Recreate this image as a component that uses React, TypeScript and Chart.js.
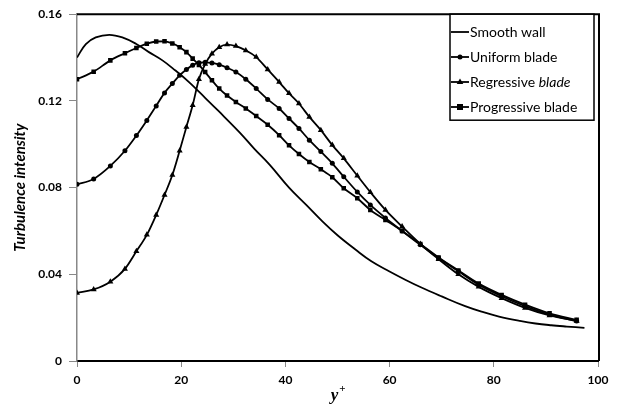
import React, { useEffect, useRef } from "react";
import { Chart, registerables } from "chart.js";

Chart.register(...registerables);

// y+ grid of the blade simulations
const bladeX = [0, 3.2, 6.4, 9.2, 11.4, 13.4, 15.2, 16.8, 18.3, 19.7, 21.0, 22.2, 23.4, 24.6, 25.9, 27.3, 28.8, 30.5, 32.4, 34.4, 36.6, 38.8, 40.7, 42.6, 44.6, 46.8, 49.0, 51.2, 53.8, 56.3, 59.2, 62.4, 65.9, 69.4, 73.2, 77.1, 81.5, 86.0, 90.7, 95.9];

const uniformY = [0.0815, 0.084, 0.09, 0.097, 0.104, 0.111, 0.1177, 0.1237, 0.128, 0.1318, 0.1345, 0.1365, 0.1376, 0.1378, 0.1375, 0.1367, 0.1353, 0.1333, 0.13, 0.1257, 0.1207, 0.1165, 0.1119, 0.1073, 0.1019, 0.0966, 0.0912, 0.085, 0.078, 0.072, 0.066, 0.06, 0.0536, 0.0475, 0.0414, 0.0352, 0.0299, 0.0253, 0.0214, 0.0184];

const regressiveY = [0.0314, 0.033, 0.0366, 0.0425, 0.0506, 0.0582, 0.0674, 0.0766, 0.0858, 0.097, 0.108, 0.118, 0.13, 0.137, 0.1418, 0.1448, 0.146, 0.1453, 0.1433, 0.1402, 0.1345, 0.1287, 0.1235, 0.1188, 0.1126, 0.1065, 0.0996, 0.0935, 0.0855, 0.0779, 0.0697, 0.062, 0.054, 0.047, 0.04, 0.0342, 0.029, 0.0245, 0.021, 0.0185];

const progressiveY = [0.13, 0.1335, 0.1387, 0.142, 0.1444, 0.1464, 0.1474, 0.1475, 0.1465, 0.1448, 0.1425, 0.1395, 0.1366, 0.1333, 0.1295, 0.1257, 0.1225, 0.1195, 0.1165, 0.113, 0.109, 0.1042, 0.0995, 0.0955, 0.0918, 0.0885, 0.0848, 0.0797, 0.0751, 0.0697, 0.0651, 0.06, 0.054, 0.0478, 0.0418, 0.0357, 0.0305, 0.026, 0.022, 0.019];

const smoothX = [0, 1.7, 3.6, 6.2, 8.7, 11.3, 13.8, 16.4, 18.9, 21.5, 23.5, 27.3, 31.2, 34, 37, 40.7, 44, 47.1, 50, 53.5, 56.5, 59.9, 63, 66, 70, 74.5, 78, 81, 85, 88, 91, 94, 97.4];
const smoothY = [0.14, 0.1462, 0.1493, 0.1505, 0.1493, 0.1464, 0.1425, 0.1387, 0.134, 0.1287, 0.124, 0.115, 0.1055, 0.098, 0.0905, 0.08, 0.072, 0.0644, 0.058, 0.0513, 0.046, 0.0414, 0.0375, 0.034, 0.0298, 0.0253, 0.0225, 0.0205, 0.0185, 0.0173, 0.0165, 0.0159, 0.0153];

const seriesLabels = ["Smooth wall", "Uniform blade", "Regressive blade", "Progressive blade"];
const xTicks = [0, 20, 40, 60, 80, 100];
const yTicks = [0, 0.04, 0.08, 0.12, 0.16];

const toPts = (xs: number[], ys: number[]) => xs.map((x, i) => ({ x, y: ys[i] }));

function drawMarker(ctx: CanvasRenderingContext2D, style: string, x: number, y: number, r: number) {
  ctx.beginPath();
  if (style === "circle") {
    ctx.arc(x, y, r, 0, Math.PI * 2);
  } else if (style === "triangle") {
    ctx.moveTo(x, y - r * 1.2);
    ctx.lineTo(x + r * 1.1, y + r * 0.7);
    ctx.lineTo(x - r * 1.1, y + r * 0.7);
    ctx.closePath();
  } else if (style === "rect") {
    ctx.rect(x - r, y - r, r * 2, r * 2);
  } else {
    return;
  }
  ctx.fill();
}

const decorPlugin = {
  id: "decor",
  afterDraw(chart: any) {
    const ctx = chart.ctx as CanvasRenderingContext2D;
    const a = chart.chartArea;
    ctx.save();
    // top and right frame
    ctx.strokeStyle = "#000";
    ctx.lineWidth = 2;
    ctx.beginPath();
    ctx.moveTo(a.left, a.top);
    ctx.lineTo(a.right + 2, a.top);
    ctx.moveTo(a.right + 1, a.top);
    ctx.lineTo(a.right + 1, a.bottom);
    ctx.stroke();

    // legend
    const bx = 450, by = a.top, bw = 144, bh = 106;
    ctx.fillStyle = "#fff";
    ctx.fillRect(bx, by, bw, bh);
    ctx.lineWidth = 1.5;
    ctx.strokeRect(bx, by, bw, bh);
    const styles = ["none", "circle", "triangle", "rect"];
    const radii = [0, 2.5, 3, 3];
    const rowY = [32, 57, 82, 107];
    ctx.fillStyle = "#000";
    ctx.textBaseline = "middle";
    ctx.textAlign = "left";
    seriesLabels.forEach((lab, i) => {
      const y = rowY[i];
      ctx.lineWidth = 1.8;
      ctx.beginPath();
      ctx.moveTo(bx + 1, y);
      ctx.lineTo(bx + 19, y);
      ctx.stroke();
      drawMarker(ctx, styles[i], bx + 10, y, radii[i]);
      if (i === 2) {
        const parts = lab.split(" ");
        ctx.font = "14px Lato";
        ctx.fillText(parts[0] + " ", bx + 20, y);
        const w = ctx.measureText(parts[0] + " ").width;
        ctx.font = "italic 14px Lato";
        ctx.fillText(parts[1], bx + 20 + w, y);
      } else {
        ctx.font = "14px Lato";
        ctx.fillText(lab, bx + 20, y);
      }
    });

    // y axis title
    ctx.save();
    ctx.translate(20, (a.top + a.bottom) / 2);
    ctx.rotate(-Math.PI / 2);
    ctx.font = "bold italic 15px Lato";
    ctx.textAlign = "center";
    ctx.textBaseline = "middle";
    ctx.fillText("Turbulence intensity", 0, 0);
    ctx.restore();

    // x axis title y+
    const cx = (a.left + a.right) / 2;
    ctx.font = "bold italic 17px 'Liberation Serif'";
    ctx.textAlign = "left";
    ctx.textBaseline = "alphabetic";
    const wy = ctx.measureText("y").width;
    ctx.fillText("y", cx - wy / 2 - 3, 400);
    ctx.font = "bold 11px 'Liberation Serif'";
    ctx.fillText("+", cx + wy / 2 - 2, 392);
    ctx.restore();
  },
};

export default function App() {
  const ref = useRef<HTMLCanvasElement>(null);
  useEffect(() => {
    if (!ref.current) return;
    const chart = new Chart(ref.current, {
      type: "line",
      data: {
        datasets: [
          {
            label: seriesLabels[0],
            data: toPts(smoothX, smoothY),
            borderColor: "#000",
            borderWidth: 1.8,
            pointRadius: 0,
            tension: 0.4,
          },
          {
            label: seriesLabels[1],
            data: toPts(bladeX, uniformY),
            borderColor: "#000",
            backgroundColor: "#000",
            borderWidth: 1.8,
            pointStyle: "circle",
            pointRadius: 2.5,
            pointBorderWidth: 0,
            cubicInterpolationMode: "monotone",
          },
          {
            label: seriesLabels[2],
            data: toPts(bladeX, regressiveY),
            borderColor: "#000",
            backgroundColor: "#000",
            borderWidth: 1.8,
            pointStyle: "triangle",
            pointRadius: 3.5,
            pointBorderWidth: 0,
            cubicInterpolationMode: "monotone",
          },
          {
            label: seriesLabels[3],
            data: toPts(bladeX, progressiveY),
            borderColor: "#000",
            backgroundColor: "#000",
            borderWidth: 1.8,
            pointStyle: "rect",
            pointRadius: 3.2,
            pointBorderWidth: 0,
            cubicInterpolationMode: "monotone",
          },
        ],
      },
      options: {
        animation: false,
        responsive: true,
        maintainAspectRatio: false,
        layout: { padding: { top: 12, right: 22, left: 0, bottom: 0 } },
        plugins: {
          legend: { display: false },
          tooltip: { enabled: false },
        },
        scales: {
          x: {
            type: "linear",
            min: 0,
            max: 100,
            afterFit: (s: any) => {
              s.height = 46;
            },
            afterBuildTicks: (s: any) => {
              s.ticks = xTicks.map((v) => ({ value: v }));
            },
            ticks: {
              color: "#000",
              padding: 6,
              font: { family: "Lato", weight: "bold", size: 12 },
              maxRotation: 0,
            },
            grid: { drawOnChartArea: false, drawTicks: true, tickLength: 6, color: "#888" },
            border: { color: "#000", width: 2 },
          },
          y: {
            type: "linear",
            min: 0,
            max: 0.16,
            afterFit: (s: any) => {
              s.width = 77;
            },
            afterBuildTicks: (s: any) => {
              s.ticks = yTicks.map((v) => ({ value: v }));
            },
            ticks: {
              color: "#000",
              padding: 7,
              font: { family: "Lato", weight: "bold", size: 12 },
              callback: (v: any) => (Number(v) === 0 ? "0" : Number(v).toFixed(2)),
            },
            grid: { drawOnChartArea: false, drawTicks: true, tickLength: 8, color: "#888" },
            border: { color: "#888", width: 1.5 },
          },
        },
      },
      plugins: [decorPlugin],
    });
    return () => chart.destroy();
  }, []);
  return (
    <div style={{ position: "fixed", left: 0, top: 0, width: 620, height: 407, background: "#fff" }}>
      <canvas ref={ref} />
    </div>
  );
}
